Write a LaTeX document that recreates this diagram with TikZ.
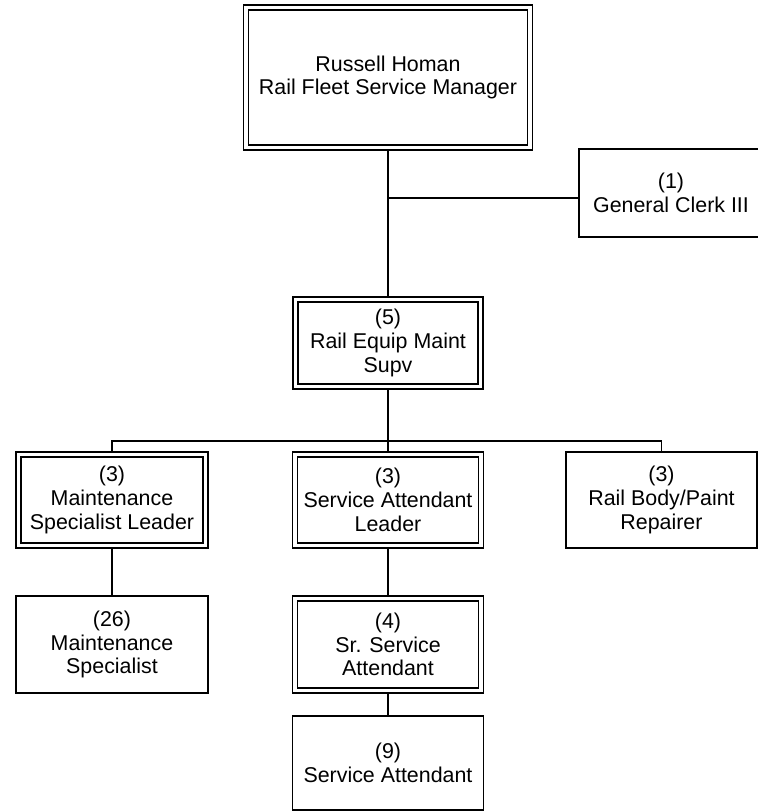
\documentclass[tikz,border=0pt]{standalone}
\usepackage{fontspec}
\setmainfont{Liberation Sans}
\begin{document}
\begin{tikzpicture}[x=1pt,y=-1pt,
  box/.style={draw, line width=1.6pt, inner sep=0pt, outer sep=0pt, align=center,
    font=\fontsize{21.4}{23.8}\selectfont},
  dbl/.style={box, line width=1.2pt},
  conn/.style={line width=1.6pt}]
\useasboundingbox (0,0) rectangle (758,812);
\clip (0,0) rectangle (758,812);

\node[dbl, minimum width=289pt, minimum height=145pt] (top) at (388,77.5) {Russell Homan\\Rail Fleet Service Manager};
\node[box, minimum width=184pt, minimum height=88pt] (clerk) at (671,193) {(1)\\General Clerk III};
\node[dbl, minimum width=190pt, minimum height=92pt] (supv) at (388,343) {(5)\\Rail Equip Maint\\Supv};
\node[dbl, minimum width=192pt, minimum height=96pt] (mleader) at (112,500) {(3)\\Maintenance\\Specialist Leader};
\node[dbl, minimum width=191pt, minimum height=96pt] (sleader) at (388,500) {(3)\\Service Attendant\\Leader};
\node[box, minimum width=191pt, minimum height=96pt] (rbody) at (661.5,500) {(3)\\Rail Body/Paint\\Repairer};
\node[box, minimum width=192pt, minimum height=97pt] (mspec) at (112,644.5) {(26)\\Maintenance\\Specialist};
\node[dbl, minimum width=191pt, minimum height=97pt] (sr) at (388,644.5) {(4)\\Sr. Service\\Attendant};
\node[box, minimum width=191pt, minimum height=94pt] (svc) at (388,763) {(9)\\Service Attendant};

\foreach \n in {top,supv,mleader,sleader,sr}
  \draw[line width=1.8pt] ([shift={(5pt,5pt)}]\n.south west) rectangle ([shift={(-5pt,-5pt)}]\n.north east);

\coordinate (br) at (388,198);
\draw[conn] (top.south) -- (supv.north);
\draw[conn] (br) -- (br -| clerk.west);
\draw[conn] (supv.south) -- (sleader.north);
\draw[conn] (mleader.north) -- ++(0,-11) -| (rbody.north);
\draw[conn] (mleader.south) -- (mspec.north);
\draw[conn] (sleader.south) -- (sr.north);
\draw[conn] (sr.south) -- (svc.north);
\end{tikzpicture}
\end{document}
